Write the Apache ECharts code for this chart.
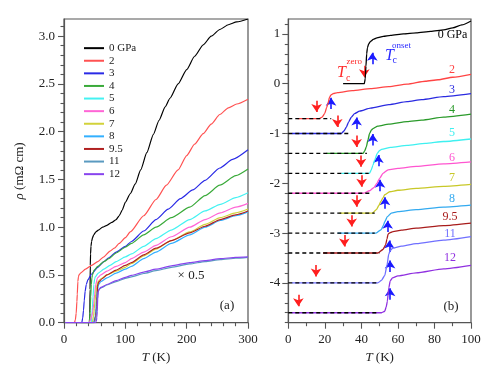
<!DOCTYPE html>
<html><head><meta charset="utf-8">
<script src="https://cdn.jsdelivr.net/npm/echarts@6/dist/echarts.min.js"></script>
<style>html,body{margin:0;padding:0;background:#fff}#c{width:500px;height:369px}</style>
</head><body><div id="c"></div>
<script>
// ---------------- data ----------------
const pressures = ['0 GPa','2','3','4','5','6','7','8','9.5','11','12'];
const leftColors  = ['#000000','#ff5252','#2a2ae6','#3aaa3a','#44f2f2','#ff66d6','#d2d23a','#33b0ff','#b02020','#5a9ac0','#8844ee'];
const rightColors = ['#000000','#ff4444','#2a2ae0','#2a9a2a','#3ff0f0','#ff55d0','#c8c828','#33aaf0','#a81c1c','#7070ff','#9030e0'];
const offsets   = [0,-0.7,-1.0,-1.4,-1.8,-2.2,-2.6,-3.0,-3.4,-4.0,-4.6];
const leftScale = [1,1,1,1,1,1,1,1,1,0.5,0.5];
const dashEnd   = [null,23.5,34.5,43,44,44.5,47.3,47.3,50,49,49];
const tcZero    = [41.6,15.5,26.8,37.4,39.8,40.1,37.4,34.7,30.7,15.2,5.5];
const tcOnset   = [46,23.4,37.4,46.2,49.3,50.2,52.9,54.4,55.3,55.7,55.7];
const onsetTip  = [0.7,0.5,0.4,0.47,0.45,0.35,0.4,0.33,0.33,0.53,0.57];

const rho0  = [[30,0],[38,0],[41.6,0],[42.1,0.1],[42.5,0.35],[42.9,0.6],[43.3,0.72],[44,0.8],[45,0.85],[46.5,0.89],[48.5,0.92],[52,0.95],[56,0.97],[63,1.0],[70,1.02],[78,1.05],[85,1.08],[90,1.12],[95,1.18],[100,1.26],[108,1.35],[116,1.45],[125,1.6],[135,1.78],[145.6,1.97],[155,2.12],[165,2.26],[172.8,2.35],[186,2.5],[200,2.65],[213,2.79],[227,2.91],[240,3.0],[254,3.07],[268,3.12],[281.6,3.15],[300,3.18]];
const rho2  = [[5,0],[10,0],[17,0],[18.5,0.03],[19.9,0.1],[21,0.22],[21.7,0.3],[22.6,0.43],[23.5,0.48],[24.5,0.5],[27,0.52],[35,0.56],[45,0.6],[55,0.64],[65,0.69],[75,0.75],[82,0.78],[90,0.83],[100,0.89],[108,0.95],[130,1.12],[150,1.29],[167,1.44],[186,1.6],[200,1.75],[213,1.87],[227,1.98],[240,2.08],[254,2.18],[268,2.25],[281.6,2.29],[300,2.34]];
const rho3  = [[2,0],[15,0],[25,0],[29,0],[30.5,0.05],[31.8,0.13],[33,0.23],[34.5,0.33],[36.3,0.4],[39,0.45],[45,0.51],[55,0.58],[65,0.64],[73,0.68],[85,0.74],[100,0.8],[110,0.85],[130,0.96],[150,1.08],[170,1.19],[190,1.3],[210,1.39],[230,1.49],[254,1.62],[275,1.71],[300,1.81]];
const rho4  = [[20.8,0],[30,0],[38,0],[40.9,0],[41.8,0.05],[42.7,0.13],[43.6,0.27],[44.5,0.4],[45.5,0.47],[46.4,0.5],[49,0.55],[55,0.59],[65,0.64],[73,0.67],[85,0.73],[100,0.79],[110,0.83],[130,0.92],[150,1.0],[175,1.1],[205,1.21],[230,1.33],[254,1.44],[280,1.54],[300,1.61]];
const rho5  = [[29,0],[40,0],[44.5,0],[45.4,0.07],[46.3,0.16],[47.3,0.27],[48.7,0.4],[50,0.46],[51,0.48],[56,0.52],[65,0.56],[75,0.6],[85,0.64],[100,0.69],[110,0.72],[130,0.8],[150,0.88],[175,0.97],[205,1.08],[230,1.17],[255,1.24],[280,1.31],[300,1.36]];
const rho6  = [[2,0],[20,0],[35,0],[41,0],[44.5,0.05],[47,0.12],[48.5,0.2],[50,0.3],[51.8,0.4],[54.6,0.47],[60,0.5],[70,0.54],[85,0.59],[100,0.63],[110,0.67],[130,0.74],[150,0.81],[175,0.9],[205,1.0],[230,1.08],[255,1.15],[280,1.21],[300,1.25]];
const rho7  = [[28,0],[40,0],[46,0],[48.2,0.07],[49.5,0.15],[50.6,0.23],[51.7,0.3],[52.8,0.37],[55.5,0.43],[60,0.46],[70,0.5],[85,0.54],[100,0.58],[110,0.62],[130,0.7],[150,0.77],[175,0.86],[205,0.95],[230,1.03],[255,1.1],[280,1.15],[300,1.19]];
const rho8  = [[27,0],[40,0],[48,0],[50.9,0.07],[52,0.15],[52.8,0.23],[54.2,0.33],[56.4,0.4],[60,0.43],[70,0.47],[85,0.52],[100,0.56],[110,0.59],[130,0.67],[150,0.74],[175,0.83],[205,0.92],[230,1.0],[255,1.07],[280,1.12],[300,1.16]];
const rho95 = [[19,0],[35,0],[49,0],[51.8,0.07],[52.6,0.12],[53.3,0.17],[54,0.28],[54.6,0.38],[55.8,0.41],[57.3,0.43],[62,0.46],[70,0.5],[85,0.55],[100,0.6],[110,0.63],[130,0.71],[150,0.78],[175,0.86],[205,0.94],[230,1.01],[255,1.08],[280,1.13],[300,1.17]];
const rho11 = [[2,0],[20,0],[40,0],[49,0],[51,0.05],[52.8,0.15],[54,0.35],[55,0.58],[55.8,0.65],[57.3,0.7],[62,0.74],[70,0.79],[85,0.86],[100,0.93],[110,0.96],[130,1.03],[150,1.09],[175,1.16],[205,1.23],[230,1.28],[255,1.32],[280,1.35],[300,1.37]];
const rho12 = [[2,0],[20,0],[40,0],[51,0],[52.8,0.03],[53.6,0.12],[54.2,0.23],[55,0.5],[55.8,0.64],[57,0.7],[60,0.74],[70,0.8],[85,0.88],[100,0.95],[110,0.99],[130,1.06],[150,1.12],[175,1.19],[205,1.26],[230,1.3],[255,1.34],[280,1.37],[300,1.38]];
const curves = [rho0,rho2,rho3,rho4,rho5,rho6,rho7,rho8,rho95,rho11,rho12];

const leftYMajor  = [0,0.5,1.0,1.5,2.0,2.5,3.0];
const rightYMajor = [-4,-3,-2,-1,0,1];

// ---------------- build ----------------
const FONT = '"Liberation Serif", "Times New Roman", serif';
const AX = '#555';
const leftYMinor = [];
for (let i = 1; i <= 31; i++) { if (i % 5) leftYMinor.push(+(i/10).toFixed(1)); }
const rightYMinor = [];
for (let i = -24; i <= 6; i++) { if (i % 5) rightYMinor.push(+(i/5).toFixed(1)); }

const series = [];
curves.forEach((c, i) => {
  series.push({
    name: pressures[i], type: 'line', xAxisIndex: 0, yAxisIndex: 0,
    symbol: 'none', showSymbol: false, smooth: 0.2, smoothMonotone: 'x', clip: true,
    lineStyle: { width: 1.2, color: leftColors[i] }, itemStyle: { color: leftColors[i] },
    data: c.map(p => [p[0], p[1] * leftScale[i]])
  });
});
curves.forEach((c, i) => {
  series.push({
    name: 'r' + pressures[i], type: 'line', xAxisIndex: 1, yAxisIndex: 2,
    symbol: 'none', showSymbol: false, smooth: 0.2, smoothMonotone: 'x', clip: true,
    lineStyle: { width: 1.3, color: rightColors[i] },
    data: c.filter(p => p[0] <= 100).map(p => [p[0], p[1] + offsets[i]])
  });
});
offsets.forEach((o, i) => {
  if (dashEnd[i] == null) return;
  series.push({
    name: 'd' + i, type: 'line', xAxisIndex: 1, yAxisIndex: 2, symbol: 'none', silent: true,
    lineStyle: { width: 1.3, color: '#000', type: [4, 3] },
    data: [[0, o], [dashEnd[i], o]]
  });
});
series.push({
  name: 'zeroArrows', type: 'lines', coordinateSystem: 'cartesian2d', xAxisIndex: 1, yAxisIndex: 2,
  symbol: ['none', 'arrow'], symbolSize: 8, silent: true,
  lineStyle: { color: '#ff1e1e', width: 1.6, opacity: 1 },
  data: tcZero.map((t, i) => ({ coords: [[t, offsets[i] + 0.36], [t, offsets[i] + 0.13]] }))
});
series.push({
  name: 'onsetArrows', type: 'lines', coordinateSystem: 'cartesian2d', xAxisIndex: 1, yAxisIndex: 2,
  symbol: ['none', 'arrow'], symbolSize: 8, silent: true,
  lineStyle: { color: '#1a1aff', width: 1.6, opacity: 1 },
  data: tcOnset.map((t, i) => ({ coords: [[t, offsets[i] + onsetTip[i] - 0.31], [t, offsets[i] + onsetTip[i] - 0.08]] }))
});
// invisible one-point helpers so the minor-tick axes are not blank
series.push({ name: 'hL', type: 'line', xAxisIndex: 0, yAxisIndex: 1, symbol: 'none', silent: true, lineStyle: { opacity: 0 }, data: [[0, 0]] });
series.push({ name: 'hR', type: 'line', xAxisIndex: 1, yAxisIndex: 3, symbol: 'none', silent: true, lineStyle: { opacity: 0 }, data: [[0, 0]] });

const lbl = { fontFamily: FONT, fontSize: 13, color: '#222' };
const nameStyle = { fontFamily: FONT, fontSize: 13, color: '#222', rich: { it: { fontFamily: FONT, fontSize: 13, fontStyle: 'italic', color: '#222' } } };

function txt(text, x, y, size, color, opts) {
  return Object.assign({ type: 'text', x: x, y: y, silent: true,
    style: Object.assign({ text: text, fill: color, font: size + 'px ' + FONT, align: 'center', verticalAlign: 'middle' }, opts || {}) });
}
const pLabelPos = [[452.5,35],[452,69.5],[452,89.5],[452,110],[452,133],[452,157.5],[452,177.5],[452,198.5],[450,216.5],[450,234],[450,257.5]];
const graphics = [
  txt('× 0.5', 191, 276, 13, '#222'),
  txt('(a)', 227, 306, 13, '#222'),
  txt('(b)', 451, 306.5, 13, '#222'),
  { type: 'text', x: 337, y: 72.5, silent: true, style: { text: 'T', fill: '#ff2a2a', font: 'italic 16px ' + FONT, align: 'left', verticalAlign: 'middle' } },
  { type: 'text', x: 346, y: 78.5, silent: true, style: { text: 'c', fill: '#ff2a2a', font: '10px ' + FONT, align: 'left', verticalAlign: 'middle' } },
  { type: 'text', x: 346.5, y: 62, silent: true, style: { text: 'zero', fill: '#ff2a2a', font: '9px ' + FONT, align: 'left', verticalAlign: 'middle' } },
  { type: 'text', x: 385, y: 55.5, silent: true, style: { text: 'T', fill: '#2a2aff', font: 'italic 16px ' + FONT, align: 'left', verticalAlign: 'middle' } },
  { type: 'text', x: 392.5, y: 60.5, silent: true, style: { text: 'c', fill: '#2a2aff', font: '10px ' + FONT, align: 'left', verticalAlign: 'middle' } },
  { type: 'text', x: 392, y: 46, silent: true, style: { text: 'onset', fill: '#2a2aff', font: '9px ' + FONT, align: 'left', verticalAlign: 'middle' } }
];
pressures.forEach((p, i) => graphics.push(txt(p, pLabelPos[i][0], pLabelPos[i][1], 12, rightColors[i])));

const option = {
  animation: false,
  backgroundColor: '#fff',
  grid: [
    { left: 64, top: 19, width: 184, height: 303.7, show: true, borderColor: AX, borderWidth: 1.2, backgroundColor: 'transparent' },
    { left: 288.3, top: 19, width: 182.7, height: 303.7, show: true, borderColor: AX, borderWidth: 1.2, backgroundColor: 'transparent' }
  ],
  xAxis: [
    { gridIndex: 0, type: 'value', min: 0, max: 300, interval: 100, position: 'bottom',
      name: '{it|T} (K)', nameLocation: 'middle', nameGap: 27, nameTextStyle: nameStyle,
      axisLine: { onZero: false, lineStyle: { color: AX, width: 1.2 } },
      axisTick: { length: 6, lineStyle: { color: AX, width: 1.1 } },
      minorTick: { show: true, splitNumber: 5, length: 3.5, lineStyle: { color: AX, width: 1.1 } },
      axisLabel: Object.assign({ margin: 10 }, lbl), splitLine: { show: false } },
    { gridIndex: 1, type: 'value', min: 0, max: 100, interval: 20, position: 'bottom',
      name: '{it|T} (K)', nameLocation: 'middle', nameGap: 27, nameTextStyle: nameStyle,
      axisLine: { onZero: false, lineStyle: { color: AX, width: 1.2 } },
      axisTick: { length: 6, lineStyle: { color: AX, width: 1.1 } },
      minorTick: { show: true, splitNumber: 2, length: 3.5, lineStyle: { color: AX, width: 1.1 } },
      axisLabel: Object.assign({ margin: 10 }, lbl), splitLine: { show: false } }
  ],
  yAxis: [
    { gridIndex: 0, type: 'value', min: 0, max: 3.18, position: 'left',
      name: '{it|ρ} (mΩ cm)', nameLocation: 'middle', nameGap: 38, nameTextStyle: nameStyle,
      axisLine: { show: true, onZero: false, lineStyle: { color: AX, width: 1.2 } },
      axisTick: { show: true, length: 6, customValues: leftYMajor, lineStyle: { color: AX, width: 1.1 } },
      axisLabel: Object.assign({ margin: 9, customValues: leftYMajor, formatter: v => v.toFixed(1) }, lbl),
      splitLine: { show: false } },
    { gridIndex: 0, type: 'value', min: 0, max: 3.18, position: 'left',
      axisLine: { show: false, onZero: false }, axisLabel: { show: false }, splitLine: { show: false },
      axisTick: { show: true, length: 3.5, customValues: leftYMinor, lineStyle: { color: AX, width: 1.1 } } },
    { gridIndex: 1, type: 'value', min: -4.8, max: 1.3, position: 'left',
      axisLine: { show: true, onZero: false, lineStyle: { color: AX, width: 1.2 } },
      axisTick: { show: true, length: 6, customValues: rightYMajor, lineStyle: { color: AX, width: 1.1 } },
      axisLabel: Object.assign({ margin: 8, customValues: rightYMajor, formatter: v => String(v) }, lbl),
      splitLine: { show: false } },
    { gridIndex: 1, type: 'value', min: -4.8, max: 1.3, position: 'left',
      axisLine: { show: false, onZero: false }, axisLabel: { show: false }, splitLine: { show: false },
      axisTick: { show: true, length: 3.5, customValues: rightYMinor, lineStyle: { color: AX, width: 1.1 } } }
  ],
  legend: {
    data: pressures.map(p => ({ name: p, icon: 'rect' })), orient: 'vertical', left: 79, top: 37,
    itemWidth: 20, itemHeight: 2, itemGap: 0.3, selectedMode: false,
    textStyle: { fontFamily: FONT, fontSize: 11, color: '#222', lineHeight: 12.3 }
  },
  graphic: graphics,
  series: series
};
const chart = echarts.init(document.getElementById('c'), null, { renderer: 'canvas' });
chart.setOption(option);
</script>
</body></html>
